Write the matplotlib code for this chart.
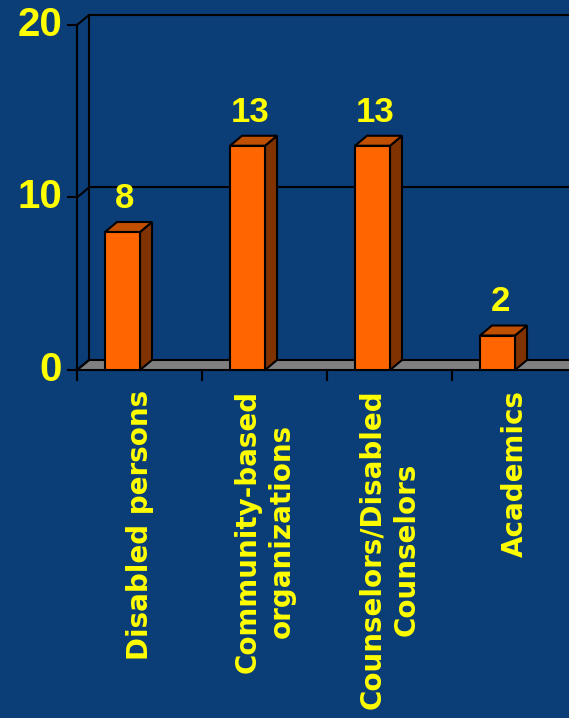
import matplotlib
matplotlib.use("Agg")
import matplotlib.pyplot as plt
from matplotlib.patches import Polygon

# Data
categories = ["Disabled persons", "Community-based\norganizations",
              "Counselors/Disabled\nCounselors", "Academics"]
values = [8, 13, 13, 2]
y_ticks = [0, 10, 20]

bg = "#0b3d77"
yellow = "#ffff00"
front_c, top_c, side_c = "#ff6600", "#c05000", "#803300"

W, H = 569, 718
fig = plt.figure(figsize=(W / 100, H / 100), dpi=100, facecolor=bg)
# axis origin at pixel (77, 370), value 20 at y=25, one category = 125 px
ax = fig.add_axes([77 / W, (H - 370) / H, 500 / W, 345 / H])
ax.set_facecolor("none")
ax.set_xlim(0, 4)
ax.set_ylim(0, 20)
ax.axis("off")

dx = 12 / 125          # depth offset in x (data units)
dy = 10 / 17.25        # depth offset in y (data units)
right = 4.2
lw = 1.5

# floor
ax.add_patch(Polygon([(0, 0), (right, 0), (right + dx, dy), (dx, dy)],
                     closed=True, facecolor="#808080", edgecolor="black",
                     lw=lw, clip_on=False, zorder=1))

# back wall and side wall lines
ax.plot([dx, dx], [dy, 20 + dy], color="black", lw=lw, clip_on=False, zorder=2)
for t in y_ticks:
    if t > 0:
        ax.plot([dx, right + dx], [t + dy, t + dy], color="black", lw=lw,
                clip_on=False, zorder=2)
    ax.plot([0, dx], [t, t + dy], color="black", lw=lw, clip_on=False, zorder=2)
    ax.plot([-0.072, 0], [t, t], color="black", lw=lw, clip_on=False, zorder=2)
    ax.text(-0.12, t, str(t), ha="right", va="center", color=yellow,
            fontsize=29, fontweight="bold", family="Liberation Sans")

# front y axis
ax.plot([0, 0], [-0.58, 20], color="black", lw=lw, clip_on=False, zorder=3)
# x ticks
for i in range(len(categories)):
    ax.plot([i, i], [0, -0.58], color="black", lw=lw, clip_on=False, zorder=3)

# 3D bars
bar_l, bar_w = 0.224, 0.28
for i, v in enumerate(values):
    x0, x1 = i + bar_l, i + bar_l + bar_w
    ax.add_patch(Polygon([(x1, 0), (x1 + dx, dy), (x1 + dx, v + dy), (x1, v)],
                         closed=True, facecolor=side_c, edgecolor="black",
                         lw=lw, clip_on=False, zorder=4))
    ax.add_patch(Polygon([(x0, v), (x1, v), (x1 + dx, v + dy), (x0 + dx, v + dy)],
                         closed=True, facecolor=top_c, edgecolor="black",
                         lw=lw, clip_on=False, zorder=4))
    ax.add_patch(Polygon([(x0, 0), (x1, 0), (x1, v), (x0, v)],
                         closed=True, facecolor=front_c, edgecolor="black",
                         lw=lw, clip_on=False, zorder=5))
    ax.text(i + 0.384, v + 1.95, str(v), ha="center", va="center",
            color=yellow, fontsize=25, fontweight="bold",
            family="Liberation Sans")

# category labels
for i, c in enumerate(categories):
    ax.text(i + 0.5, -1.15, c, rotation=90, ha="center", va="top",
            multialignment="center", linespacing=1.3,
            color=yellow, fontsize=20, fontweight="bold",
            family="DejaVu Sans")

fig.savefig("out.png", dpi=100, facecolor=bg)
